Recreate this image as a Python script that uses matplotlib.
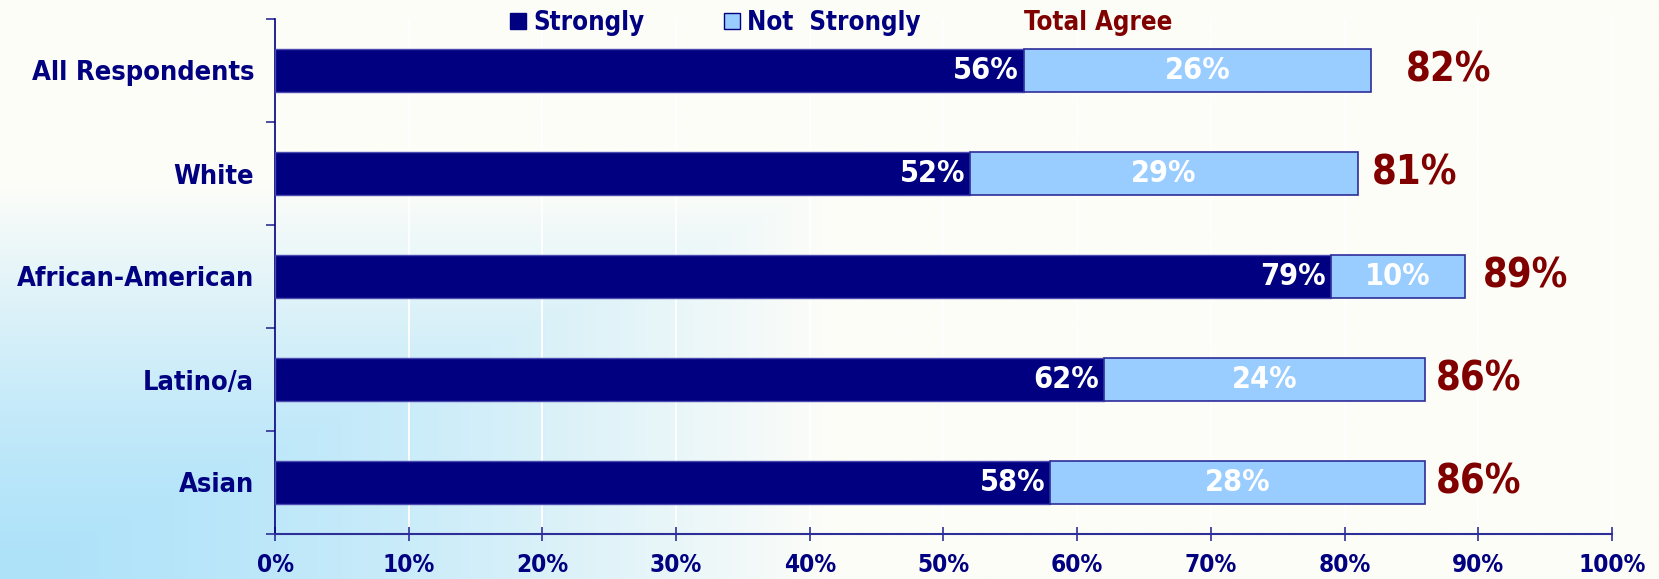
import numpy as np
import matplotlib
matplotlib.use("Agg")
import matplotlib.pyplot as plt
from matplotlib.patches import Patch
from matplotlib.colors import to_rgb
from matplotlib.ticker import FixedLocator, PercentFormatter

# ---------------- data ----------------
categories = ["All Respondents", "White", "African-American", "Latino/a", "Asian"]
strongly = [56, 52, 79, 62, 58]
not_strongly = [26, 29, 10, 24, 28]
total_agree = [82, 81, 89, 86, 86]
x_ticks = [0, 10, 20, 30, 40, 50, 60, 70, 80, 90, 100]
legend_labels = ["Strongly", "Not  Strongly", "Total Agree"]

# ---------------- style ----------------
NAVY = "#000080"
LIGHT = "#99ccff"
DARKRED = "#800000"
AXIS = "#2e2e99"
plt.rcParams["font.family"] = ["DejaVu Sans"]
plt.rcParams["font.weight"] = "bold"
plt.rcParams["font.stretch"] = "condensed"

W, H, DPI = 1659, 579, 100
fig = plt.figure(figsize=(W / DPI, H / DPI), dpi=DPI)

# background gradient (rectangular, from bottom-left corner)
bg = fig.add_axes([0, 0, 1, 1], zorder=-10)
nx, ny = 400, 200
u = np.linspace(0, 1, nx)[None, :]
v = np.linspace(1, 0, ny)[:, None]
t = np.clip(np.maximum(u / 0.50, v / 0.68), 0, 1) ** 1.4
c0 = np.array(to_rgb("#ade2fa"))
c1 = np.array(to_rgb("#fdfdf8"))
img = c0[None, None, :] * (1 - t[..., None]) + c1[None, None, :] * t[..., None]
bg.imshow(img, aspect="auto", extent=[0, 1, 0, 1], interpolation="bilinear")
bg.axis("off")

left, right = 275 / W, 1612 / W
top, bottom = 1 - 19 / H, 1 - 534 / H
ax = fig.add_axes([left, bottom, right - left, top - bottom])
ax.set_facecolor("none")

y = np.arange(len(categories))
bh = 0.41
ax.barh(y, strongly, height=bh, color=NAVY, edgecolor="#4a4ab0", linewidth=1.0, zorder=3)
ax.barh(y, not_strongly, left=strongly, height=bh, color=LIGHT, edgecolor=AXIS,
        linewidth=1.2, zorder=3)

ax.set_xlim(0, 100)
ax.set_ylim(len(categories) - 0.5, -0.5)

# gridlines (white)
ax.xaxis.set_major_locator(FixedLocator(x_ticks))
ax.xaxis.set_major_formatter(PercentFormatter(decimals=0))
ax.grid(axis="x", color="white", linewidth=1.3, zorder=0)
ax.set_axisbelow(True)

# y ticks: labels at centres, tick marks at category boundaries
ax.set_yticks(y)
ax.set_yticklabels(categories)
ax.yaxis.set_minor_locator(FixedLocator(np.arange(-0.5, len(categories), 1.0)))
ax.tick_params(axis="y", which="major", length=0, pad=15, labelsize=19.5, labelcolor=NAVY)
ax.tick_params(axis="y", which="minor", length=6.5, width=1.2, color=AXIS, direction="out")
ax.tick_params(axis="x", which="major", length=10, width=1.2, color=AXIS, direction="inout",
               pad=9, labelsize=17.5, labelcolor=NAVY)

for s in ["top", "right"]:
    ax.spines[s].set_visible(False)
ax.spines["left"].set_color(NAVY)
ax.spines["left"].set_linewidth(1.2)
ax.spines["bottom"].set_color(AXIS)
ax.spines["bottom"].set_linewidth(1.5)
for lab in ax.get_xticklabels() + ax.get_yticklabels():
    lab.set_fontweight("bold")
    lab.set_fontstretch("condensed")

# labels inside bars
for i in range(len(categories)):
    s, n = strongly[i], not_strongly[i]
    ax.annotate(f"{s}%", xy=(s, i), xytext=(-5, 0), textcoords="offset pixels",
                ha="right", va="center", color="white", fontsize=22, fontweight="bold",
                fontstretch="condensed", zorder=5)
    ax.text(s + n / 2, i, f"{n}%", ha="center", va="center", color="white",
            fontsize=22, fontweight="bold", fontstretch="condensed", zorder=5)

# total agree labels
total_pad = [35, 14, 18, 11, 11]
for i, tot in enumerate(total_agree):
    ax.annotate(f"{tot}%", xy=(tot, i), xytext=(total_pad[i], 0), textcoords="offset pixels",
                ha="left", va="center", color=DARKRED, fontsize=28.5, fontweight="bold",
                fontstretch="condensed", annotation_clip=False)

# legend
handles = [Patch(facecolor=NAVY, edgecolor=NAVY),
           Patch(facecolor=LIGHT, edgecolor=NAVY, linewidth=1.0),
           Patch(facecolor="none", edgecolor="none")]
leg = fig.legend(handles, legend_labels, loc="center", bbox_to_anchor=(0.507, 1 - 23 / H),
                 ncol=3, frameon=False,
                 prop={"size": 18.5, "weight": "bold", "stretch": "condensed"},
                 handlelength=0.6, handleheight=0.6,
                 handletextpad=0.3, columnspacing=3.1, borderpad=0, borderaxespad=0)
for txt, col in zip(leg.get_texts(), [NAVY, NAVY, DARKRED]):
    txt.set_color(col)

fig.savefig("out.png", dpi=DPI)
